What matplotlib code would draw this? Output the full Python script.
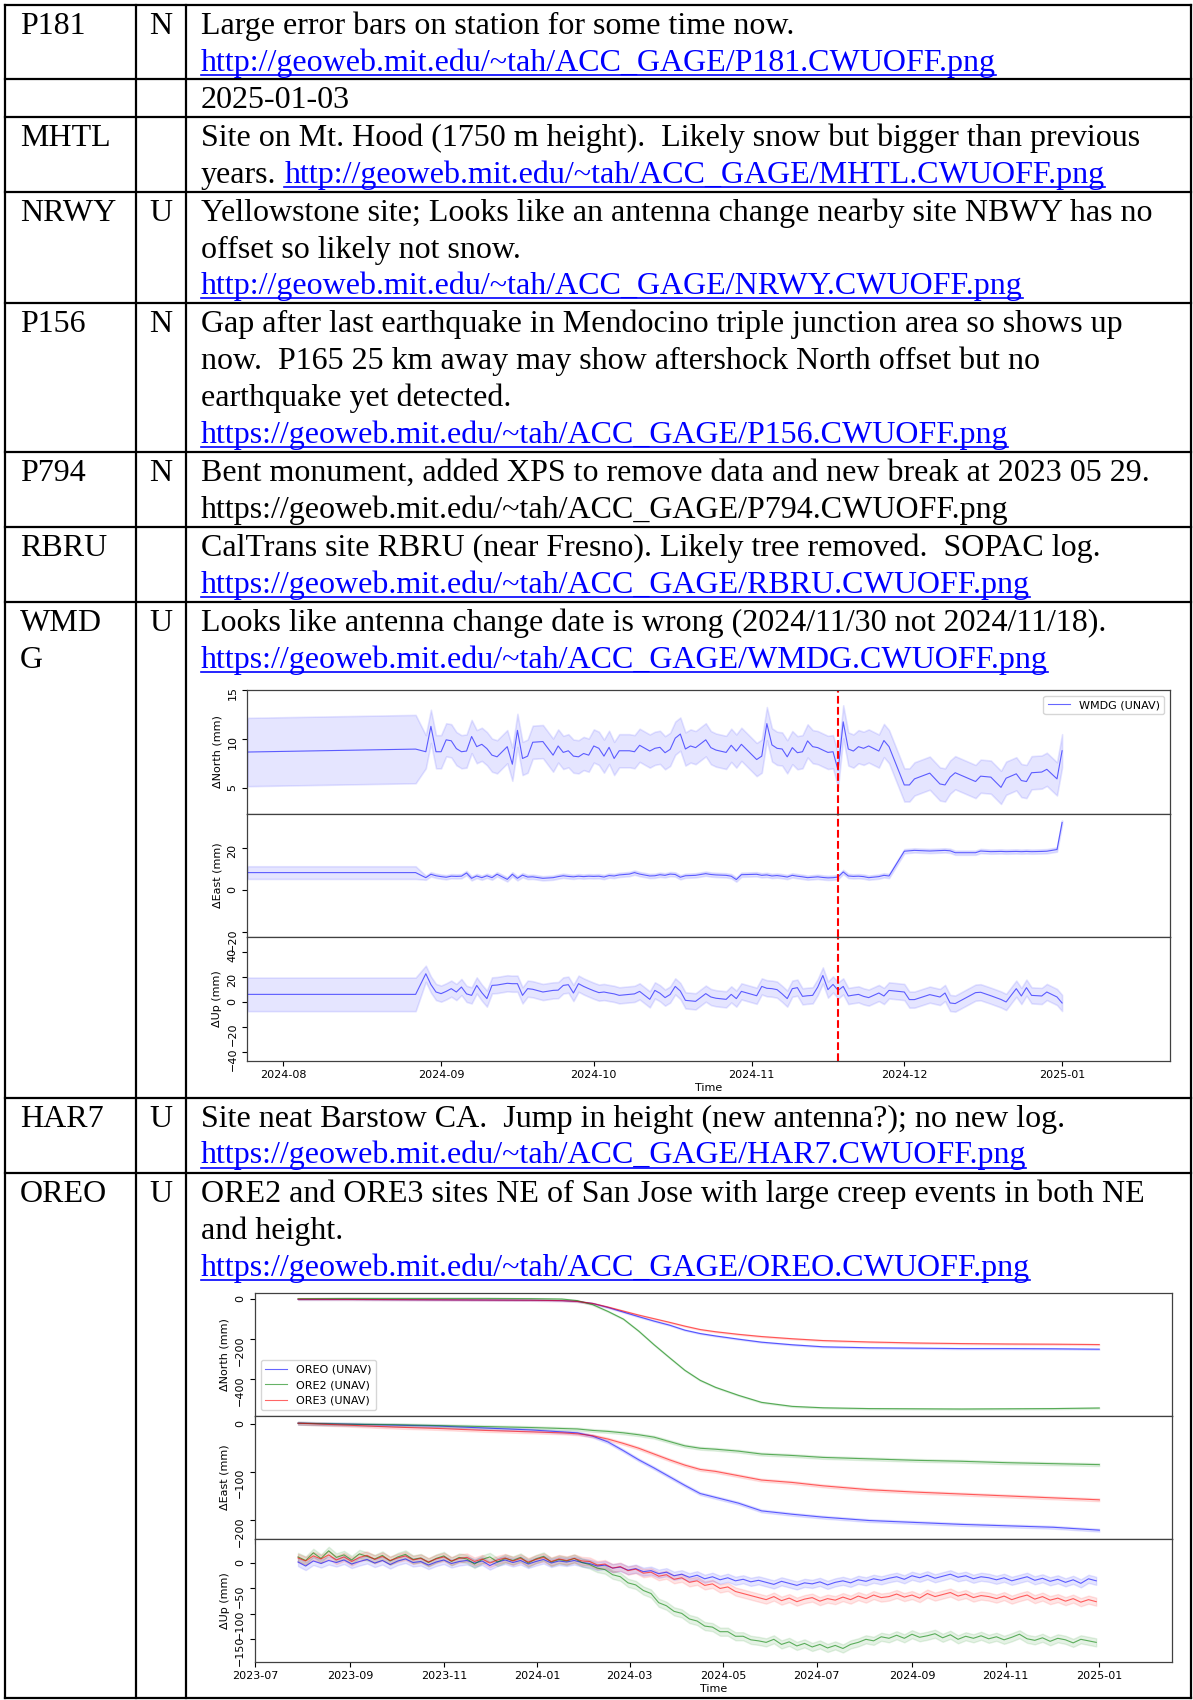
import numpy as np
import matplotlib
matplotlib.use('Agg')
import matplotlib.pyplot as plt
import matplotlib.dates as mdates

W, H = 1193, 1700

# ---------------- table contents ----------------
sites = ['P181', '', 'MHTL', 'NRWY', 'P156', 'P794', 'RBRU', 'WMD\nG', 'HAR7', 'OREO']
flags = ['N', '', '', 'U', 'N', 'N', '', 'U', 'U', 'U']
# each note line is a list of (text, is_link)
notes = [
    [[('Large error bars on station for some time now.', 0)],
     [('http://geoweb.mit.edu/~tah/ACC_GAGE/P181.CWUOFF.png', 1)]],
    [[('2025-01-03', 0)]],
    [[('Site on Mt. Hood (1750 m height).  Likely snow but bigger than previous', 0)],
     [('years. ', 0), ('http://geoweb.mit.edu/~tah/ACC_GAGE/MHTL.CWUOFF.png', 1)]],
    [[('Yellowstone site; Looks like an antenna change nearby site NBWY has no', 0)],
     [('offset so likely not snow.', 0)],
     [('http://geoweb.mit.edu/~tah/ACC_GAGE/NRWY.CWUOFF.png', 1)]],
    [[('Gap after last earthquake in Mendocino triple junction area so shows up', 0)],
     [('now.  P165 25 km away may show aftershock North offset but no', 0)],
     [('earthquake yet detected.', 0)],
     [('https://geoweb.mit.edu/~tah/ACC_GAGE/P156.CWUOFF.png', 1)]],
    [[('Bent monument, added XPS to remove data and new break at 2023 05 29.', 0)],
     [('https://geoweb.mit.edu/~tah/ACC_GAGE/P794.CWUOFF.png', 0)]],
    [[('CalTrans site RBRU (near Fresno). Likely tree removed.  SOPAC log.', 0)],
     [('https://geoweb.mit.edu/~tah/ACC_GAGE/RBRU.CWUOFF.png', 1)]],
    [[('Looks like antenna change date is wrong (2024/11/30 not 2024/11/18).', 0)],
     [('https://geoweb.mit.edu/~tah/ACC_GAGE/WMDG.CWUOFF.png', 1)]],
    [[('Site neat Barstow CA.  Jump in height (new antenna?); no new log.', 0)],
     [('https://geoweb.mit.edu/~tah/ACC_GAGE/HAR7.CWUOFF.png', 1)]],
    [[('ORE2 and ORE3 sites NE of San Jose with large creep events in both NE', 0)],
     [('and height.', 0)],
     [('https://geoweb.mit.edu/~tah/ACC_GAGE/OREO.CWUOFF.png', 1)]],
]

# ---------------- WMDG series (days since 2024-08-01) ----------------
wmdg_day = [-7, 26, 28, 29, 30, 31, 32, 33, 34, 35, 36, 37, 38, 39, 40, 41, 42, 44, 45, 46,
            47, 48, 49, 51, 53, 54, 55, 56, 57, 58, 59, 60, 61, 62, 63, 64, 65, 66, 68, 69,
            70, 72, 73, 74, 75, 76, 77, 78, 79, 80, 81, 83, 84, 85, 87, 88, 89, 90, 93, 94,
            95, 96, 97, 98, 99, 100, 101, 102, 103, 104, 105, 106, 107, 108, 109, 110, 111, 112, 113, 114,
            115, 117, 118, 119, 122, 123, 124, 127, 129, 130, 131, 132, 136, 137, 139, 141, 142, 144, 145, 146,
            147, 149, 150, 152, 153]
wmdg_north = [8.65, 8.95, 8.68, 11.28, 8.68, 8.68, 9.9, 9.8, 9.0, 8.68, 8.75, 10.24, 9.2, 9.44, 9.0, 8.33, 8.16, 9.2, 7.4, 10.87,
              7.99, 8.23, 9.65, 9.72, 8.33, 9.27, 8.61, 8.78, 8.23, 8.16, 8.5, 8.33, 9.27, 9.03, 8.23, 9.13, 7.99, 8.78, 8.78, 8.68,
              9.34, 8.75, 9.03, 9.13, 8.58, 8.92, 10.07, 10.49, 8.96, 9.27, 9.1, 9.9, 9.1, 8.85, 8.61, 9.34, 8.75, 9.44, 7.88, 8.23,
              11.56, 9.38, 9.03, 8.96, 8.16, 9.1, 8.58, 8.68, 9.79, 9.2, 9.1, 8.85, 8.61, 8.68, 6.77, 11.74, 8.96, 8.75, 9.2, 9.03,
              9.27, 8.75, 9.83, 9.2, 5.28, 5.28, 5.9, 6.49, 5.38, 5.28, 6.08, 6.53, 5.63, 6.18, 6.08, 5.03, 5.97, 6.42, 5.73, 5.63,
              6.53, 6.6, 6.88, 5.9, 8.78]
wmdg_east = [8.3, 8.3, 5.9, 7.5, 6.8, 6.4, 6.1, 6.6, 6.5, 6.6, 8.1, 5.6, 6.7, 5.9, 6.8, 5.9, 7.5, 5.1, 7.5, 5.6,
             7.1, 6.2, 6.3, 5.6, 5.9, 6.4, 6.8, 6.5, 6.3, 6.6, 6.4, 6.6, 6.5, 6.6, 6.2, 6.9, 6.7, 7.2, 7.6, 8.3,
             7.6, 6.7, 6.8, 7.3, 7.0, 7.6, 7.4, 6.1, 6.8, 6.9, 7.0, 7.8, 7.4, 7.2, 7.0, 6.6, 5.0, 7.3, 7.5, 7.0,
             7.2, 6.7, 6.9, 6.6, 6.2, 7.0, 6.6, 6.3, 5.9, 6.1, 6.3, 6.0, 5.8, 5.9, 6.2, 8.6, 6.7, 6.5, 6.6, 6.4,
             5.9, 6.4, 7.0, 6.7, 18.4, 18.6, 18.8, 18.5, 18.7, 18.8, 18.6, 17.7, 17.7, 18.5, 18.2, 18.3, 18.2, 18.3, 18.2, 18.3,
             18.2, 18.3, 18.4, 19.2, 32.0]
wmdg_up = [6.1, 6.1, 22.7, 14.0, 8.0, 6.7, 8.5, 10.7, 8.0, 12.0, 6.5, 5.3, 13.3, 7.5, 2.7, 13.3, 13.6, 15.0, 14.7, 14.7,
           5.3, 10.7, 10.2, 8.0, 9.3, 9.5, 13.3, 13.9, 7.2, 14.7, 12.5, 10.7, 9.0, 7.5, 8.0, 7.2, 6.5, 5.3, 6.1, 6.5,
           8.5, 2.1, 9.3, 7.0, 3.5, 6.0, 12.5, 8.8, 1.3, 0.9, 0.5, 6.7, 4.0, 3.0, 2.1, 6.1, 2.7, 8.5, 5.0, 12.5,
           11.0, 10.7, 9.9, 6.5, 2.7, 10.7, 11.5, 4.5, 5.0, 5.3, 12.0, 21.3, 9.9, 14.1, 9.3, 12.5, 4.8, 5.5, 6.1, 4.5,
           3.5, 7.2, 4.8, 9.3, 8.0, 1.9, 1.9, 5.9, 4.0, 7.2, -0.8, -1.3, 7.5, 7.8, 5.0, 2.0, 0.0, 10.7, 4.8, 11.5,
           5.3, 4.8, 8.0, 4.0, -0.8]
wmdg_sig_north = [3.5, 3.5] + [1.7] * 103
wmdg_sig_east = [3.0, 3.0] + [1.0] * 103
wmdg_sig_up = [13.5, 13.5] + [6.5] * 103
wmdg_break_day = 109  # 2024-11-18

# ---------------- OREO / ORE2 / ORE3 series (days since 2023-07-01) ----------------
ore_names = ['OREO (UNAV)', 'ORE2 (UNAV)', 'ORE3 (UNAV)']
ore_colors = ['blue', 'green', 'red']
ore_day_ne = [28, 60, 90, 120, 150, 180, 200, 210, 220, 230, 240, 250, 260, 270, 280, 290, 300,
              315, 330, 350, 370, 400, 430, 460, 490, 520, 550]
oreo_north = [-2, -2, -3, -4, -5, -6, -8, -12, -22, -42, -65, -88, -110, -130, -155, -172, -184,
              -200, -215, -228, -238, -243, -245, -247, -247, -248, -250]
ore2_north = [2, 3, 3, 3, 3, 2, 0, -8, -28, -62, -100, -160, -228, -292, -355, -405, -440,
              -480, -515, -535, -542, -546, -547, -548, -547, -546, -543]
ore3_north = [-1, -2, -3, -4, -5, -6, -8, -12, -22, -40, -60, -80, -98, -116, -135, -152, -163,
              -176, -187, -198, -207, -214, -219, -222, -224, -225, -227]
oreo_east = [1, -1, -3, -5, -9, -13, -17, -19, -26, -38, -56, -75, -92, -110, -128, -145, -153,
             -165, -181, -188, -194, -201, -205, -209, -212, -215, -221]
ore2_east = [1, -1, -2, -4, -6, -8, -10, -11, -14, -16, -19, -23, -28, -37, -46, -51, -53,
             -57, -63, -66, -70, -73, -76, -78, -81, -83, -85]
ore3_east = [1, -3, -7, -10, -14, -17, -19, -21, -25, -32, -41, -51, -63, -75, -86, -95, -99,
             -108, -117, -122, -129, -137, -142, -146, -150, -154, -158]
ore_day_up = np.arange(28, 549, 5)
oreo_up = [2, -6, 4, -1, 5, 1, 6, -2, 3, 7, 0, 5, -3, 4, 8, 1, 3, -4, 2, 6,
           -1, 3, 5, 0, 4, -5, 2, 6, 1, 5, -2, 3, 7, 0, 4, 2, 5, 1,
           -1, -6, -4, -10, -8, -14, -11, -17, -15, -21, -18, -25, -22, -28, -24, -31, -27, -33, -29, -35,
           -32, -37, -34,
           -38, -42, -36, -40, -44, -39, -41, -37, -43, -38, -35, -39, -33, -36, -31, -34, -30,
           -27, -32, -25, -29, -24, -30, -26, -22, -28, -25, -31, -27, -29,
           -33, -29, -35, -31, -27, -34, -30, -36, -32, -38, -33, -40, -31, -35]
ore2_up = [12, 5, 20, 9, 24, 11, 16, 6, 18, 13, 8, 15, 4, 12, 17, 7, 10, 1, 9, 14,
           3, 11, 8, -2, 7, 12, 2, 9, 5, 11, 0, 8, 13, 2, 7, 4, 9, 1,
           -3, -10, -13, -23, -27, -39, -43, -54, -60, -78, -84, -95, -99, -110, -114, -124, -126, -135, -135, -144,
           -144, -151, -153,
           -156, -150, -160, -155, -163, -158, -165, -160, -167, -162, -168, -160, -156, -150, -153, -145, -148,
           -142, -148, -140, -146, -143, -139, -147, -141, -150, -144, -148, -143, -149,
           -145, -151, -146, -140, -149, -152, -147, -154, -148, -151, -157, -150, -153, -156]
ore3_up = [10, 4, 14, 8, 16, 6, 12, 3, 11, 15, 7, 13, 5, 10, 14, 6, 9, 2, 8, 12,
           4, 9, 11, 3, 8, 0, 6, 10, 4, 9, 2, 7, 11, 3, 8, 5, 9, 4,
           3, -4, -2, -10, -7, -15, -12, -20, -18, -26, -23, -32, -29, -38, -35, -44, -41, -50, -47, -56,
           -60, -64, -68,
           -72, -66, -74, -69, -76, -71, -68, -75, -70, -73, -67, -72, -65, -70, -63, -68, -66,
           -61, -67, -63, -69, -60, -66, -62, -58, -65, -61, -68, -64, -66,
           -70, -65, -72, -67, -63, -71, -66, -73, -69, -75, -70, -77, -72, -76]
ore_sig_ne = 3.0
ore_sig_up = 8.0

# ---------------- layout (pixels) ----------------
col_x = [5.4, 135.9, 185.6, 1191.0]
row_y = [4.7, 79.0, 116.7, 191.7, 303.3, 452.3, 527.3, 602.3, 1097.7, 1173.0, 1698.0]
first_base = 29.0
pitch = 36.8
link_color = '#0000FF'

fig = plt.figure(figsize=(W / 100, H / 100), dpi=100)
bg = fig.add_axes([0, 0, 1, 1])
bg.set_xlim(0, W)
bg.set_ylim(H, 0)
bg.axis('off')
renderer = fig.canvas.get_renderer()

serif = 'Liberation Serif'
probe = bg.text(0, 0, notes[0][0][0][0], fontsize=20, family=serif)
fs = 20 * 593.0 / probe.get_window_extent(renderer).width
probe.remove()


def text_width(s):
    t = bg.text(0, 0, s, fontsize=fs, family=serif)
    w = t.get_window_extent(renderer).width
    t.remove()
    return w


space_w = text_width('a a') - text_width('aa')

for x in col_x:
    bg.plot([x, x], [row_y[0], row_y[-1]], color='black', lw=1.6, solid_capstyle='projecting')
for y in row_y:
    bg.plot([col_x[0], col_x[-1]], [y, y], color='black', lw=1.6, solid_capstyle='projecting')

for r in range(len(sites)):
    top = row_y[r]
    for k, part in enumerate(sites[r].split('\n')):
        bg.text(19.9, top + first_base + k * pitch, part, fontsize=fs, family=serif, va='baseline')
    bg.text((col_x[1] + col_x[2]) / 2, top + first_base, flags[r], fontsize=fs, family=serif,
            va='baseline', ha='center')
    for k, segs in enumerate(notes[r]):
        x = 200.9
        y = top + first_base + k * pitch
        for s, link in segs:
            core = s.rstrip()
            bg.text(x, y, core, fontsize=fs, family=serif, va='baseline',
                    color=link_color if link else 'black')
            w = text_width(core)
            if link:
                bg.plot([x, x + w], [y + 4, y + 4], color=link_color, lw=1.2)
            x += w + space_w * (len(s) - len(core))


def stacked_axes(left, top, right, bottom):
    h = (bottom - top) / 3.0
    axs = []
    for i in range(3):
        y0 = top + i * h
        ax = fig.add_axes([left / W, 1 - (y0 + h) / H, (right - left) / W, h / H],
                          sharex=axs[0] if axs else None)
        ax.tick_params(labelsize=8, width=0.8, length=3.5)
        ax.tick_params(axis='y', labelrotation=90)
        for sp in ax.spines.values():
            sp.set_linewidth(0.9)
            sp.set_color('0.25')
        if i < 2:
            ax.tick_params(labelbottom=False)
        axs.append(ax)
    return axs


# ---------------- WMDG plot ----------------
t0 = mdates.date2num(np.datetime64('2024-08-01'))
tw = t0 + np.array(wmdg_day)
axs = stacked_axes(247.3, 690.0, 1170.0, 1060.7)
series = [(wmdg_north, wmdg_sig_north, '\u0394North (mm)', (2.35, 15.0), [5, 10, 15]),
          (wmdg_east, wmdg_sig_east, '\u0394East (mm)', (-22.2, 36.2), [-20, 0, 20]),
          (wmdg_up, wmdg_sig_up, '\u0394Up (mm)', (-47.2, 52.1), [-40, -20, 0, 20, 40])]
for ax, (v, s, lab, lim, ticks) in zip(axs, series):
    v = np.array(v)
    s = np.array(s)
    ax.fill_between(tw, v - s, v + s, color='blue', alpha=0.1, lw=1.2)
    ax.plot(tw, v, color='blue', alpha=0.6, lw=0.8, label='WMDG (UNAV)')
    ax.axvline(t0 + wmdg_break_day, color='red', ls='--', lw=1.5)
    ax.set_ylim(*lim)
    ax.set_yticks(ticks)
    ax.set_ylabel(lab, fontsize=8)
axs[0].legend(loc='upper right', fontsize=8)
axs[0].set_xlim(t0 - 7.07, t0 + 174.2)
axs[2].xaxis.set_major_locator(mdates.MonthLocator())
axs[2].xaxis.set_major_formatter(mdates.DateFormatter('%Y-%m'))
axs[2].set_xlabel('Time', fontsize=8, labelpad=2)

# ---------------- OREO plot ----------------
t1 = mdates.date2num(np.datetime64('2023-07-01'))
t_ne = t1 + np.array(ore_day_ne)
t_up = t1 + ore_day_up
axo = stacked_axes(255.0, 1292.7, 1171.7, 1661.7)
groups = [([oreo_north, ore2_north, ore3_north], t_ne, ore_sig_ne, '\u0394North (mm)', (-581.5, 31.5), [0, -200, -400]),
          ([oreo_east, ore2_east, ore3_east], t_ne, ore_sig_ne, '\u0394East (mm)', (-238.7, 16.6), [0, -100, -200]),
          ([oreo_up, ore2_up, ore3_up], t_up, ore_sig_up, '\u0394Up (mm)', (-194.0, 47.8), [0, -50, -100, -150])]
for ax, (vals, tt, sig, lab, lim, ticks) in zip(axo, groups):
    for v, c, name in zip(vals, ore_colors, ore_names):
        v = np.array(v, dtype=float)
        ax.fill_between(tt, v - sig, v + sig, color=c, alpha=0.1, lw=1.0)
        ax.plot(tt, v, color=c, alpha=0.6, lw=0.8, label=name)
    ax.set_ylim(*lim)
    ax.set_yticks(ticks)
    ax.set_ylabel(lab, fontsize=8)
axo[0].legend(loc='lower left', fontsize=8)
axo[0].set_xlim(t1, t1 + 597.2)
axo[2].xaxis.set_major_locator(mdates.MonthLocator(bymonth=[1, 3, 5, 7, 9, 11]))
axo[2].xaxis.set_major_formatter(mdates.DateFormatter('%Y-%m'))
axo[2].set_xlabel('Time', fontsize=8, labelpad=2)

fig.savefig('out.png', dpi=100)
